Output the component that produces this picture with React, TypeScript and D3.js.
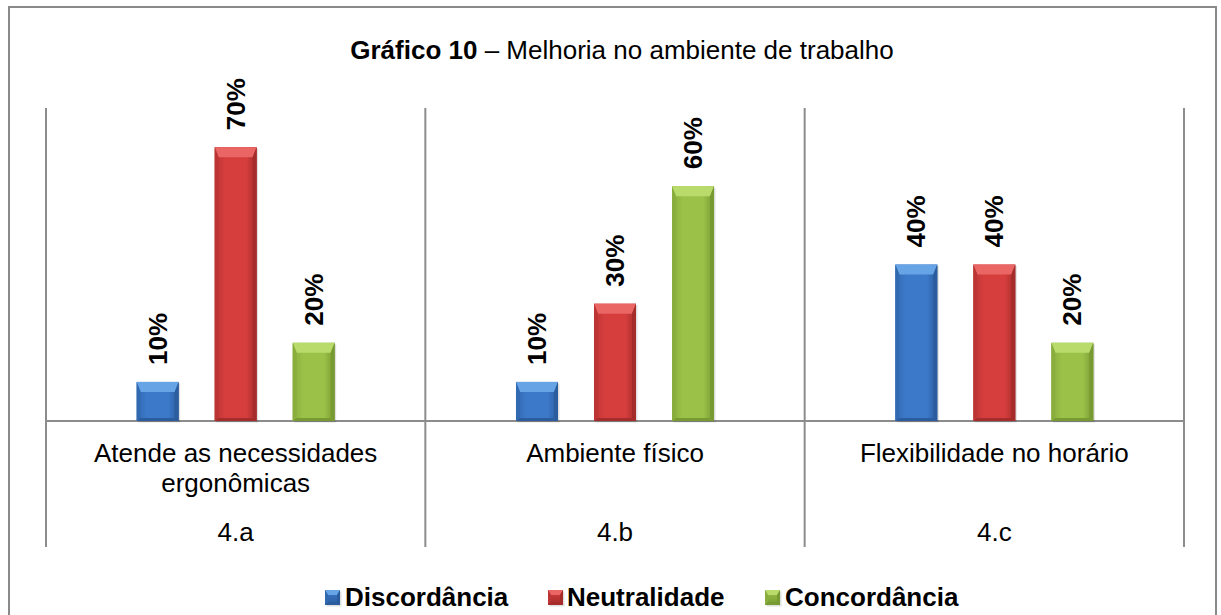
import React from "react";
import * as d3 from "d3";

const categories = ["4.a", "4.b", "4.c"];
const categoryLabels = [["Atende as necessidades", "ergonômicas"], ["Ambiente físico"], ["Flexibilidade no horário"]];
const seriesNames = ["Discordância", "Neutralidade", "Concordância"];
const discordancia = [0.1, 0.1, 0.4];
const neutralidade = [0.7, 0.3, 0.4];
const concordancia = [0.2, 0.6, 0.2];
const seriesValues = [discordancia, neutralidade, concordancia];

const palette = [
  { main: "#3C79C9", light: "#67A4E6", dark: "#2A5C9E", edge: "#326AB2" },
  { main: "#D53E3D", light: "#EA6664", dark: "#A42C2B", edge: "#BC3534" },
  { main: "#9BC148", light: "#B9DB6C", dark: "#789A33", edge: "#89AE3E" },
];

const FONT = "'Liberation Sans', Arial, Helvetica, sans-serif";

function BevelBar({ x, y, w, h, c, id, bv = 10, sb = 4 }: any) {
  const b = Math.min(bv, h / 2);
  const s = Math.min(sb, w / 2);
  return (
    <g>
      <rect x={x + 1.5} y={y + 1.5} width={w} height={h} fill="#000" opacity={0.12} />
      <rect x={x} y={y} width={w} height={h} fill={`url(#${id})`} />
      <polygon points={`${x},${y} ${x + w},${y} ${x + w - s},${y + b} ${x + s},${y + b}`} fill={c.light} />
      <polygon points={`${x},${y} ${x + s},${y + b} ${x + s},${y + h - 3} ${x},${y + h}`} fill={c.edge} />
      <polygon points={`${x + w},${y} ${x + w - s},${y + b} ${x + w - s},${y + h - 3} ${x + w},${y + h}`} fill={c.dark} />
      <polygon points={`${x},${y + h} ${x + s},${y + h - 3} ${x + w - s},${y + h - 3} ${x + w},${y + h}`} fill={c.dark} />
    </g>
  );
}

export default function App() {
  const W = 1221, H = 615;
  const left = 46, right = 1184, top = 108, base = 421, bottom = 547;
  const y = d3.scaleLinear().domain([0, 0.8]).range([base, top]);
  const x0 = d3.scaleBand<string>().domain(categories).range([left, right]).padding(0);
  const x1 = d3.scaleBand<string>().domain(seriesNames).range([0, x0.bandwidth()]).paddingInner(0.4615).paddingOuter(1.162);
  const lineColor = "#8C8C8C";
  const dividers = [left, ...categories.map((c) => (x0(c) as number) + x0.bandwidth())];

  const legendItems = [
    { mx: 325, tx: 345 },
    { mx: 548, tx: 567 },
    { mx: 765, tx: 785 },
  ];

  return (
    <svg width={W} height={H} style={{ position: "absolute", left: 0, top: 0, background: "#fff" }} fontFamily={FONT}>
      <defs>
        {palette.map((c, i) => (
          <linearGradient key={i} id={`g${i}`} x1="0" x2="1" y1="0" y2="0">
            <stop offset="0" stopColor={c.edge} />
            <stop offset="0.25" stopColor={c.main} />
            <stop offset="0.75" stopColor={c.main} />
            <stop offset="1" stopColor={c.dark} />
          </linearGradient>
        ))}
        {palette.map((c, i) => (
          <linearGradient key={"v" + i} id={`gv${i}`} x1="0" x2="0" y1="0" y2="1">
            <stop offset="0" stopColor={c.main} />
            <stop offset="1" stopColor={c.dark} />
          </linearGradient>
        ))}
      </defs>
      <rect x={0} y={0} width={W} height={H} fill="#fff" />
      {/* outer border */}
      <path d={`M9,${H + 5} L9,7 L1216,7 L1216,${H + 5}`} fill="none" stroke="#8A8A8A" strokeWidth={2} />

      {/* title */}
      <text x={622} y={50} textAnchor="middle" dominantBaseline="central" fontSize={26} fill="#000">
        <tspan fontWeight="bold">Gráfico 10</tspan>
        <tspan> – Melhoria no ambiente de trabalho</tspan>
      </text>

      {/* axis lines */}
      {dividers.map((dx, i) => (
        <line key={i} x1={dx} x2={dx} y1={top} y2={bottom} stroke={lineColor} strokeWidth={2} />
      ))}
      <line x1={left} x2={right} y1={base} y2={base} stroke={lineColor} strokeWidth={2} />

      {/* bars */}
      {categories.map((cat, ci) =>
        seriesNames.map((s, si) => {
          const v = seriesValues[si][ci];
          const bx = (x0(cat) as number) + (x1(s) as number);
          const bw = x1.bandwidth();
          const by = y(v);
          const bh = base - by;
          const cx = bx + bw / 2;
          return (
            <g key={cat + s}>
              <BevelBar x={bx} y={by} w={bw} h={bh} c={palette[si]} id={`g${si}`} />
              <text
                transform={`translate(${cx},${by - 17}) rotate(-90)`}
                textAnchor="start"
                dominantBaseline="central"
                fontSize={26}
                fontWeight="bold"
                fill="#000"
              >
                {d3.format(".0%")(v)}
              </text>
            </g>
          );
        })
      )}

      {/* category labels */}
      {categories.map((cat, ci) => {
        const cx = (x0(cat) as number) + x0.bandwidth() / 2;
        return (
          <g key={"lab" + cat}>
            {categoryLabels[ci].map((ln, li) => (
              <text key={li} x={cx} y={453 + li * 30} textAnchor="middle" dominantBaseline="central" fontSize={26} fill="#000">
                {ln}
              </text>
            ))}
            <text x={cx} y={532} textAnchor="middle" dominantBaseline="central" fontSize={26} fill="#000">
              {cat}
            </text>
          </g>
        );
      })}

      {/* legend */}
      {seriesNames.map((s, si) => (
        <g key={"leg" + s}>
          <BevelBar x={legendItems[si].mx} y={590} w={15} h={15} c={palette[si]} id={`gv${si}`} bv={5} sb={3} />
          <text x={legendItems[si].tx} y={597} dominantBaseline="central" fontSize={26} fontWeight="bold" fill="#000">
            {s}
          </text>
        </g>
      ))}
    </svg>
  );
}
